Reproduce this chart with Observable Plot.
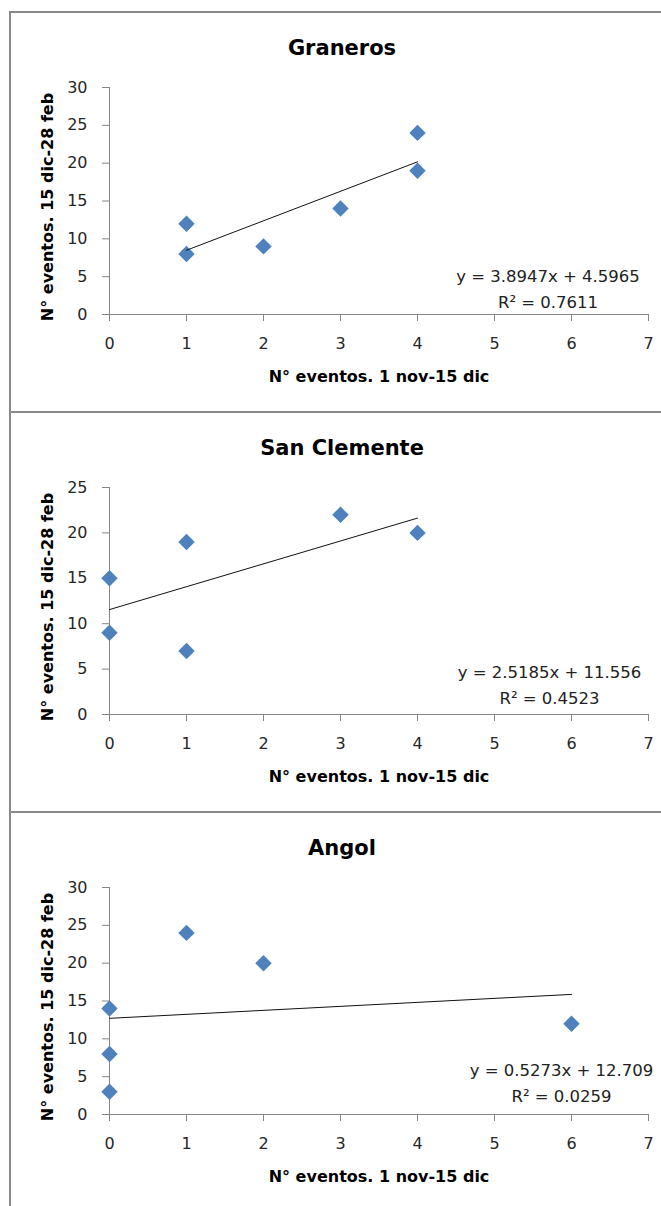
<!DOCTYPE html>
<html>
<head>
<meta charset="utf-8">
<script src="https://cdn.jsdelivr.net/npm/d3@7"></script>
<script src="https://cdn.jsdelivr.net/npm/@observablehq/plot@0.6"></script>
<style>
  html, body { margin: 0; padding: 0; background: #fff; overflow: hidden; }
  .panel { position: absolute; left: 9px; width: 665px; height: 400px; box-sizing: border-box;
           border: 2px solid #8a8a8a; border-bottom: none; }
  .panel svg { position: absolute; left: 0; top: 0; }
</style>
</head>
<body>
<script>
// ---- data ----
const sites = ["Graneros", "San Clemente", "Angol"];
const granerosX = [1, 1, 2, 3, 4, 4];
const granerosY = [12, 8, 9, 14, 24, 19];
const sanClementeX = [0, 0, 1, 1, 3, 4];
const sanClementeY = [15, 9, 19, 7, 22, 20];
const angolX = [0, 0, 0, 1, 2, 6];
const angolY = [14, 8, 3, 24, 20, 12];
const slopes = ["3.8947", "2.5185", "0.5273"];
const intercepts = ["4.5965", "11.556", "12.709"];
const r2 = ["0.7611", "0.4523", "0.0259"];
const xTicks = [0, 1, 2, 3, 4, 5, 6, 7];
const yTicksList = [[0, 5, 10, 15, 20, 25, 30], [0, 5, 10, 15, 20, 25], [0, 5, 10, 15, 20, 25, 30]];
const xLabel = "N° eventos. 1 nov-15 dic";
const yLabel = "N° eventos. 15 dic-28 feb";

// ---- layout (not data) ----
const eqPos = [{dx: 438.5, dy: 220.3}, {dx: 440, dy: 216}, {dx: 452, dy: 214.7}];
const seriesX = [granerosX, sanClementeX, angolX];
const seriesY = [granerosY, sanClementeY, angolY];
const grey = "#868686";
const blue = "#4F81BD";
const font = "'DejaVu Sans', sans-serif";

sites.forEach((site, i) => {
  const data = seriesX[i].map((x, j) => ({x, y: seriesY[i][j]}));
  const yTicks = yTicksList[i];
  const panel = document.createElement("div");
  panel.className = "panel";
  panel.style.top = (11 + 400 * i) + "px";
  document.body.appendChild(panel);

  const chart = Plot.plot({
    width: 661,
    height: 398,
    marginLeft: 98,
    marginRight: 24,
    marginTop: 74,
    marginBottom: 97,
    x: {domain: [0, 7]},
    y: {domain: [0, yTicks[yTicks.length - 1]]},
    style: {fontFamily: font, fontSize: "16px", color: "#222", background: "transparent", overflow: "visible"},
    marks: [
      Plot.ruleY([0], {stroke: grey}),
      Plot.ruleX([0], {stroke: grey}),
      Plot.axisX({ticks: xTicks, tickFormat: d => String(d), tickSize: 7, tickPadding: 16, stroke: grey, fill: "#262626", label: null, fontSize: 16}),
      Plot.axisY({ticks: yTicks, tickFormat: d => String(d), tickSize: 7, tickPadding: 15, stroke: grey, fill: "#262626", label: null, fontSize: 16}),
      Plot.dot(data, {x: "x", y: "y", symbol: "diamond2", r: 7.4, fill: blue, stroke: "none"}),
      Plot.linearRegressionY(data, {x: "x", y: "y", ci: 0, stroke: "#111", strokeWidth: 1}),
      Plot.text([site], {frameAnchor: "top", dx: -37, dy: -33, lineAnchor: "bottom", fontSize: 21, fontWeight: "bold", fill: "#000"}),
      Plot.text([xLabel], {frameAnchor: "bottom", dy: 67.7, lineAnchor: "bottom", fontSize: 16, fontWeight: "bold", fill: "#000"}),
      Plot.text([yLabel], {frameAnchor: "left", textAnchor: "middle", dx: -61.5, dy: 6, rotate: -90, lineAnchor: "middle", fontSize: 16, fontWeight: "bold", fill: "#000"}),
      Plot.text([`y = ${slopes[i]}x + ${intercepts[i]}\nR² = ${r2[i]}`], {
        frameAnchor: "top-left", dx: eqPos[i].dx, dy: eqPos[i].dy, lineAnchor: "bottom",
        lineHeight: 1.56, fontSize: 16.5, fill: "#222", textAnchor: "middle"
      })
    ]
  });
  panel.appendChild(chart);
});
</script>
</body>
</html>
